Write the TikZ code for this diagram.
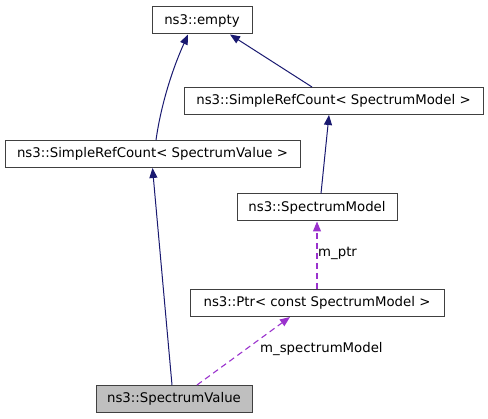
\documentclass[tikz,border=0pt]{standalone}
\usepackage{fontspec}
\setmainfont{DejaVu Sans}
\usetikzlibrary{arrows.meta,calc}
\definecolor{edgeblue}{HTML}{191970}
\definecolor{edgepurple}{HTML}{9A32CD}
\definecolor{boxborder}{HTML}{404040}
\definecolor{boxgrey}{HTML}{BFBFBF}
\begin{document}
\begin{tikzpicture}[x=1pt,y=-1pt,
  cls/.style={draw=boxborder,line width=1pt,fill=white,inner sep=0pt,minimum height=27pt,
    font=\fontsize{13.3}{16}\selectfont,anchor=center},
  inh/.style={color=edgeblue,line width=1pt,-{Triangle[length=10pt,width=8pt]}},
  use/.style={color=edgepurple,line width=1.1pt,dash pattern=on 6pt off 4pt,-{Triangle[length=10pt,width=8pt]}},
  lbl/.style={font=\fontsize{13.3}{16}\selectfont,inner sep=0pt,anchor=west}]
\useasboundingbox (0,0) rectangle (488,419);
\node[cls,minimum width=100pt] (empty) at (202,20.5) {ns3::empty};
\node[cls,minimum width=299pt] (srcsm) at (333.5,101) {ns3::SimpleRefCount< SpectrumModel >};
\node[cls,minimum width=295pt] (srcsv) at (152.5,154) {ns3::SimpleRefCount< SpectrumValue >};
\node[cls,minimum width=160pt] (sm) at (317,207.5) {ns3::SpectrumModel};
\node[cls,minimum width=254pt] (ptr) at (317,303) {ns3::Ptr< const SpectrumModel >};
\node[cls,minimum width=156pt,fill=boxgrey] (sv) at (174,399) {ns3::SpectrumValue};
% inheritance
\draw[inh] ([xshift=3.5pt]srcsv.north) .. controls (161,105) and (172,70) .. ([xshift=-14pt]empty.south);
\draw[inh] ([xshift=-21.5pt]srcsm.north) -- ([xshift=28pt]empty.south);
\draw[inh] ([xshift=4pt]sm.north) -- ([xshift=-4.5pt]srcsm.south);
\draw[inh] ([xshift=-2pt]sv.north) -- ([xshift=0pt]srcsv.south);
% usage
\draw[use] (ptr.north) -- (sm.south);
\node[lbl] (lptr) at (318,253) {m\_ptr};
\draw[use] ([xshift=23pt]sv.north) -- ([xshift=-27pt]ptr.south);
\node[lbl] (lsm) at (260,349) {m\_spectrumModel};
\end{tikzpicture}
\end{document}
